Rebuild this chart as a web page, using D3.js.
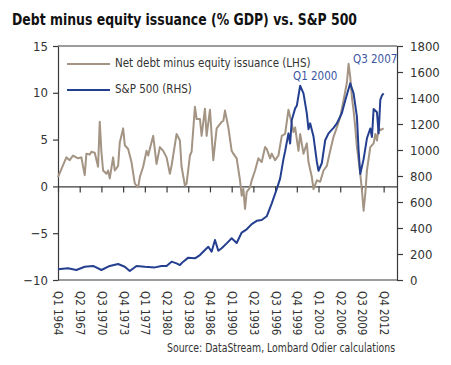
<!DOCTYPE html>
<html>
<head>
<meta charset="utf-8">
<script src="https://cdn.jsdelivr.net/npm/d3@7"></script>
<style>
  body { margin: 0; background: #fff; }
  svg text { font-family: "DejaVu Sans Condensed", "Liberation Sans Narrow", sans-serif; }
</style>
</head>
<body>
<div id="chart"></div>
<script>
// quarter index: 0 = Q1 1964
var debtQ = [0, 5, 7, 9, 12, 14, 16, 17, 19, 20, 22, 24, 25, 26, 27, 29, 30, 31, 33, 34, 36, 37, 39, 40, 42, 44, 46, 48, 49, 51, 53, 54, 57, 59, 61, 63, 65, 67, 68, 71, 73, 74, 76, 77, 79, 80, 82, 83, 85, 86, 88, 89, 91, 93, 95, 98, 99, 100, 102, 104, 105, 107, 109, 110, 111, 112, 113, 115, 116, 118, 120, 122, 124, 125, 127, 128, 130, 132, 134, 136, 138, 140, 141, 142, 144, 145, 147, 149, 150, 152, 153, 155, 157, 159, 161, 163, 165, 167, 169, 171, 173, 174, 175, 176, 177, 178, 179, 180, 181, 182, 183, 184, 185, 187, 189, 190, 191, 192, 193, 195];
var debtVal = [1.0, 3.1, 2.8, 3.3, 3.0, 3.1, 1.2, 3.5, 3.4, 3.7, 3.6, 2.1, 6.9, 3.7, 1.7, 1.35, 1.7, 0.85, 3.1, 1.7, 2.2, 4.7, 6.2, 4.4, 4.0, 2.6, 0.3, -0.1, 1.0, 2.1, 3.8, 3.3, 5.4, 2.4, 4.2, 3.8, 3.1, 1.35, 2.2, 5.6, 4.9, 2.1, 0.1, 0.3, 3.3, 3.7, 8.5, 7.2, 7.2, 5.4, 8.3, 5.4, 8.2, 2.8, 6.2, 6.9, 7.0, 8.1, 6.3, 3.8, 3.5, 3.0, 0.65, -1.0, -0.25, -2.4, -0.6, -0.1, 0.65, 1.7, 3.0, 2.6, 4.2, 4.0, 3.0, 3.5, 2.8, 3.3, 5.4, 5.6, 8.2, 6.7, 5.8, 6.3, 3.8, 5.6, 3.5, 4.6, 2.6, 1.0, -0.3, 0.65, 0.5, 1.7, 2.2, 3.8, 5.3, 6.3, 7.4, 9.2, 11.1, 13.1, 11.7, 9.5, 8.1, 6.3, 4.2, 2.8, 1.35, -0.4, -2.6, -0.8, 1.7, 4.2, 4.6, 5.6, 4.9, 6.3, 6.0, 6.2];

var spxQ = [0, 6, 11, 16, 21, 26, 31, 36, 40, 43, 47, 52, 58, 62, 65, 68, 71, 73, 75, 78, 82, 85, 88, 90, 92, 94, 96, 98, 101, 104, 107, 110, 113, 116, 119, 122, 125, 128, 131, 133, 135, 136, 138, 139, 140, 142, 143, 145, 147, 149, 150, 151, 153, 155, 156, 158, 160, 162, 165, 167, 170, 172, 175, 177, 179, 180, 181, 183, 185, 187, 188, 189, 191, 192, 193, 194, 195];
var spxVal = [82, 90, 77, 102, 108, 77, 108, 123, 102, 69, 108, 102, 97, 108, 108, 141, 128, 115, 141, 172, 167, 192, 231, 256, 218, 308, 225, 244, 282, 321, 285, 365, 390, 430, 455, 462, 490, 590, 700, 780, 930, 990, 1128, 1050, 1231, 1320, 1340, 1495, 1436, 1282, 1160, 1205, 1103, 910, 840, 900, 1075, 1128, 1170, 1205, 1285, 1380, 1513, 1436, 1256, 1000, 815, 930, 1090, 1165, 1100, 1315, 1290, 1128, 1385, 1420, 1436];

var xTickQ = [0, 13, 26, 39, 52, 65, 78, 91, 104, 117, 130, 143, 156, 169, 182, 195];
var xTickLabels = ["Q1 1964", "Q2 1967", "Q3 1970", "Q4 1973", "Q1 1977", "Q2 1980", "Q3 1983", "Q4 1986",
                   "Q1 1990", "Q2 1993", "Q3 1996", "Q4 1999", "Q1 2003", "Q2 2006", "Q3 2009", "Q4 2012"];
var leftTicks = [-10, -5, 0, 5, 10, 15];
var rightTicks = [0, 200, 400, 600, 800, 1000, 1200, 1400, 1600, 1800];

var W = 451, H = 365;
var L = 58, R = 397, T = 46, B = 280;
var brown = "#a39484", blue = "#243f8f", axisCol = "#3a3a3a", textCol = "#333";

var svg = d3.select("#chart").append("svg")
    .attr("width", W)
    .attr("height", H);

var x = d3.scaleLinear().domain([0, 203]).range([L, R]);
var yL = d3.scaleLinear().domain([-10, 15]).range([B, T]);
var yR = d3.scaleLinear().domain([0, 1800]).range([B, T]);

// title
svg.append("text")
    .attr("x", 12)
    .attr("y", 25)
    .attr("textLength", 345)
    .attr("lengthAdjust", "spacingAndGlyphs")
    .style("font-size", "16.5px")
    .style("font-weight", "bold")
    .style("fill", "#111")
    .text("Debt minus equity issuance (% GDP) vs. S&P 500");

// frame top/bottom
svg.append("line").attr("x1", L).attr("x2", R).attr("y1", T).attr("y2", T)
    .attr("stroke", axisCol).attr("stroke-width", 1.2);
svg.append("line").attr("x1", L).attr("x2", R).attr("y1", B).attr("y2", B)
    .attr("stroke", axisCol).attr("stroke-width", 1.2);

var left = svg.append("g")
    .attr("transform", "translate(" + L + ",0)")
    .call(d3.axisLeft(yL).tickValues(leftTicks).tickSize(5).tickSizeOuter(0));

var right = svg.append("g")
    .attr("transform", "translate(" + R + ",0)")
    .call(d3.axisRight(yR).tickValues(rightTicks).tickSize(6).tickSizeOuter(0)
        .tickFormat(d3.format("d")));

// ticks on the zero line
var zero = svg.append("g")
    .attr("transform", "translate(0," + yL(0) + ")")
    .call(d3.axisBottom(x).tickValues(xTickQ).tickSize(6).tickSizeOuter(0).tickFormat(""));

// rotated quarter labels under the frame
var bottom = svg.append("g")
    .attr("transform", "translate(0," + B + ")")
    .call(d3.axisBottom(x).tickValues(xTickQ).tickSize(0)
        .tickFormat(function(d, i) { return xTickLabels[i]; }));
bottom.select(".domain").remove();

[left, right, zero, bottom].forEach(function(g) {
    g.selectAll("path, line").attr("stroke", axisCol).attr("stroke-width", 1.2);
    g.selectAll("text").style("font-size", "13px").style("fill", textCol);
});
left.selectAll("text").attr("x", -10);
right.selectAll("text").attr("x", 13);
bottom.selectAll("text")
    .attr("transform", "rotate(90)")
    .attr("x", 11)
    .attr("y", 0)
    .attr("dy", "0.35em")
    .style("text-anchor", "start")
    .style("font-size", "11.5px");

// lines
var debtLine = d3.line()
    .x(function(d, i) { return x(debtQ[i]); })
    .y(function(d) { return yL(d); });
var spxLine = d3.line()
    .x(function(d, i) { return x(spxQ[i]); })
    .y(function(d) { return yR(d); });

svg.append("path")
    .attr("d", debtLine(debtVal))
    .attr("fill", "none")
    .attr("stroke", brown)
    .attr("stroke-width", 2)
    .attr("stroke-linejoin", "round");

svg.append("path")
    .attr("d", spxLine(spxVal))
    .attr("fill", "none")
    .attr("stroke", blue)
    .attr("stroke-width", 2)
    .attr("stroke-linejoin", "round");

// legend
var legend = [
    {label: "Net debt minus equity issuance (LHS)", color: brown, y: 64},
    {label: "S&P 500 (RHS)", color: blue, y: 90}
];
legend.forEach(function(d) {
    svg.append("line")
        .attr("x1", 67).attr("x2", 110)
        .attr("y1", d.y).attr("y2", d.y)
        .attr("stroke", d.color).attr("stroke-width", 2);
    svg.append("text")
        .attr("x", 115)
        .attr("y", d.y + 3)
        .style("font-size", "11.5px")
        .style("fill", textCol)
        .text(d.label);
});

// annotations
svg.append("text")
    .attr("x", 293)
    .attr("y", 80)
    .style("font-size", "11.5px")
    .style("fill", "#3b56a3")
    .text("Q1 2000");
svg.append("text")
    .attr("x", 353)
    .attr("y", 63)
    .style("font-size", "11.5px")
    .style("fill", "#3b56a3")
    .text("Q3 2007");

// source
svg.append("text")
    .attr("x", 395)
    .attr("y", 352)
    .attr("text-anchor", "end")
    .attr("textLength", 228)
    .attr("lengthAdjust", "spacingAndGlyphs")
    .style("font-size", "11.5px")
    .style("fill", textCol)
    .text("Source: DataStream, Lombard Odier calculations");
</script>
</body>
</html>
